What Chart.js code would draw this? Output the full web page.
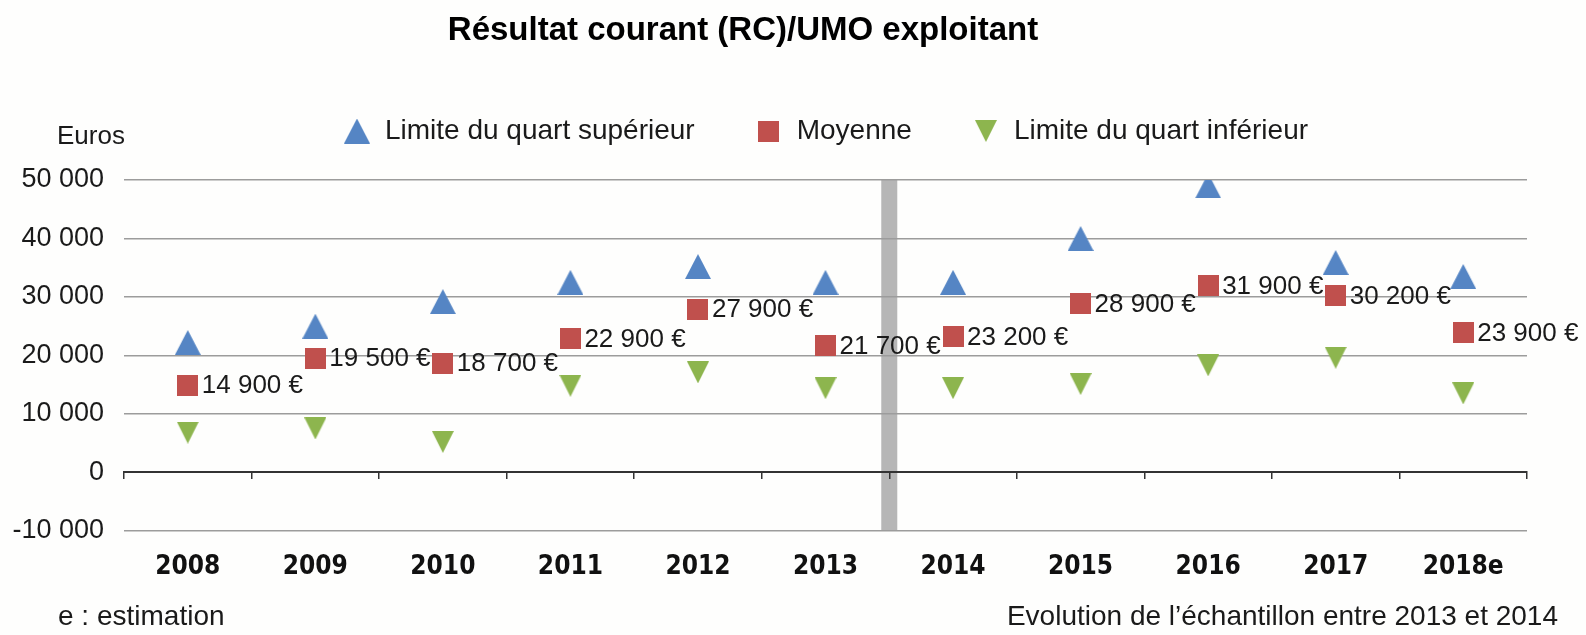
<!DOCTYPE html>
<html lang="fr">
<head>
<meta charset="utf-8">
<title>Résultat courant (RC)/UMO exploitant</title>
<script src="https://cdn.jsdelivr.net/npm/chart.js@4.4.0/dist/chart.umd.min.js"></script>
<style>
  html, body { margin: 0; padding: 0; background: #fefefd; }
  #wrap { width: 1586px; height: 635px; }
</style>
</head>
<body>
<div id="wrap"><canvas id="myChart" width="1586" height="635"></canvas></div>
<script>
// Years on the x axis ("e" = estimation)
const years = ['2008', '2009', '2010', '2011', '2012', '2013', '2014', '2015', '2016', '2017', '2018e'];

// Values (euros)
const quartSuperieur = [22200, 25000, 29200, 32500, 35200, 32500, 32500, 40000, 49000, 35900, 33500];
const moyenne = [14900, 19500, 18700, 22900, 27900, 21700, 23200, 28900, 31900, 30200, 23900];
const quartInferieur = [6800, 7500, 5200, 14800, 17100, 14400, 14400, 15100, 18300, 19600, 13500];

// y axis range
const yMin = -10000;
const yMax = 50000;
const yStep = 10000;

// the sample changed between these two years
const breakAfter = '2013';

const textColor = '#1a1a1a';
const fontFamily = "'Liberation Sans', Arial, sans-serif";

Chart.defaults.font.family = fontFamily;
Chart.defaults.color = textColor;

// thousands with a plain space : 14900 -> "14 900"
function formatNombre(v) {
  const s = String(Math.abs(v)).replace(/\B(?=(\d{3})+(?!\d))/g, ' ');
  return (v < 0 ? '-' : '') + s;
}

// small canvases used as point styles (same shape in legend and chart)
function makeMarker(kind, color, w, h) {
  const c = document.createElement('canvas');
  c.width = w;
  c.height = h;
  const g = c.getContext('2d');
  g.fillStyle = color;
  g.beginPath();
  if (kind === 'up') {
    g.moveTo(0, h); g.lineTo(w / 2, 0); g.lineTo(w, h);
  } else if (kind === 'down') {
    g.moveTo(0, 0); g.lineTo(w, 0); g.lineTo(w / 2, h);
  } else {
    g.rect(0, 0, w, h);
  }
  g.closePath();
  g.fill();
  return c;
}

const blue = '#5585c4';
const red = '#c0504d';
const green = '#8db54e';

const decor = {
  id: 'decor',
  beforeDraw(chart) {
    // grey band between 2013 and 2014
    const {ctx, scales: {x, y}} = chart;
    const i = years.indexOf(breakAfter);
    const xb = (x.getPixelForValue(i) + x.getPixelForValue(i + 1)) / 2;
    const top = y.getPixelForValue(yMax);
    const bottom = y.getPixelForValue(yMin);
    ctx.save();
    ctx.fillStyle = '#b6b6b6';
    ctx.fillRect(xb - 8, top, 16, bottom - top);
    ctx.restore();
  },
  afterDatasetsDraw(chart) {
    // value labels next to the "Moyenne" squares
    const {ctx} = chart;
    const meta = chart.getDatasetMeta(1);
    ctx.save();
    ctx.font = '26px ' + fontFamily;
    ctx.fillStyle = textColor;
    ctx.textAlign = 'left';
    ctx.textBaseline = 'middle';
    meta.data.forEach((pt, i) => {
      ctx.fillText(formatNombre(moyenne[i]) + ' €', pt.x + 14, pt.y + 1);
    });
    ctx.restore();
  },
  afterDraw(chart) {
    const {ctx} = chart;
    ctx.save();
    ctx.fillStyle = '#000';
    ctx.textBaseline = 'middle';
    ctx.font = 'bold 33px ' + fontFamily;
    ctx.textAlign = 'center';
    ctx.fillText('Résultat courant (RC)/UMO exploitant', 743, 31);

    ctx.fillStyle = textColor;
    ctx.font = '26px ' + fontFamily;
    ctx.textAlign = 'left';
    ctx.fillText('Euros', 57, 137);
    ctx.font = '28px ' + fontFamily;
    ctx.fillText('e : estimation', 58, 617);
    ctx.textAlign = 'right';
    ctx.fillText('Evolution de l’échantillon entre 2013 et 2014', 1558, 617);
    ctx.restore();
  }
};

const ctx = document.getElementById('myChart').getContext('2d');
const myChart = new Chart(ctx, {
  type: 'line',
  data: {
    labels: years,
    datasets: [
      {
        label: 'Limite du quart supérieur',
        data: quartSuperieur,
        showLine: false,
        pointStyle: makeMarker('up', blue, 26, 25),
        pointRadius: 13,
        backgroundColor: blue,
        borderColor: blue
      },
      {
        label: 'Moyenne',
        data: moyenne,
        showLine: false,
        pointStyle: makeMarker('square', red, 21, 21),
        pointRadius: 11,
        backgroundColor: red,
        borderColor: red
      },
      {
        label: 'Limite du quart inférieur',
        data: quartInferieur,
        showLine: false,
        pointStyle: makeMarker('down', green, 22, 22),
        pointRadius: 11,
        backgroundColor: green,
        borderColor: green
      }
    ]
  },
  options: {
    responsive: false,
    animation: false,
    devicePixelRatio: 1,
    layout: {
      padding: { top: 57, left: 0, right: 59, bottom: 31 }
    },
    plugins: {
      title: { display: false },
      // empty box used as a spacer between the legend and the plot
      subtitle: {
        display: true,
        text: '',
        weight: 500,
        padding: 0,
        font: { size: 10, lineHeight: '25px' }
      },
      tooltip: { enabled: false },
      legend: {
        position: 'top',
        fullSize: false, // centred over the plot area
        labels: {
          usePointStyle: true,
          padding: 60,
          color: textColor,
          font: { size: 28 }
        }
      }
    },
    scales: {
      x: {
        type: 'category',
        offset: true,
        grid: { display: false, drawTicks: false },
        border: { display: false },
        ticks: {
          padding: 21,
          color: '#111',
          font: { family: "'DejaVu Sans Condensed', 'Liberation Sans', sans-serif", size: 26, weight: 'bold' }
        }
      },
      // second category axis only for the zero line and its tick marks
      xZero: {
        type: 'category',
        position: { y: 0 },
        offset: true,
        grid: {
          offset: true,
          drawOnChartArea: false,
          drawTicks: true,
          tickLength: 6,
          color: '#333',
          lineWidth: 1.5
        },
        border: { display: true, color: '#333', width: 2 },
        ticks: { display: false }
      },
      y: {
        min: yMin,
        max: yMax,
        afterFit(scale) { scale.width = 124; },
        grid: {
          drawTicks: false,
          color: (c) => c.tick.value === 0 ? 'rgba(0,0,0,0)' : '#9c9c9c',
          lineWidth: 1.6
        },
        border: { display: false },
        ticks: {
          stepSize: yStep,
          padding: 20,
          color: textColor,
          font: { size: 27 },
          callback: (v) => formatNombre(v)
        }
      }
    }
  },
  plugins: [decor]
});
</script>
</body>
</html>
